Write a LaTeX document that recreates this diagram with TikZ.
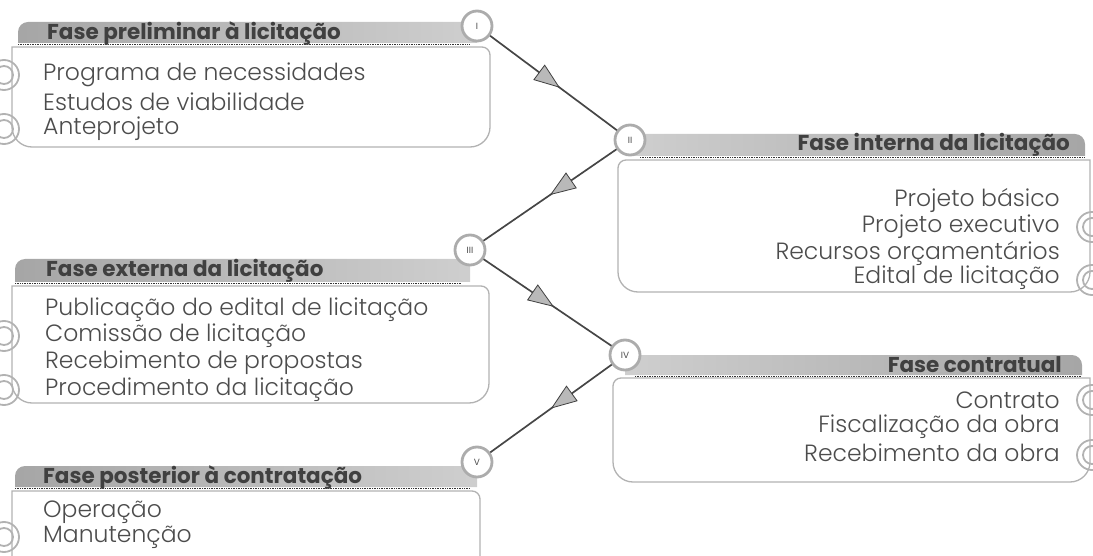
\documentclass[tikz,border=0pt]{standalone}
\usepackage{fontspec}
\setmainfont{Poppins}
\newfontfamily\leve{Poppins Light}
\usetikzlibrary{arrows.meta,decorations.markings}

% moldura de um bloco aberto a esquerda: x direito, y topo, y base
\newcommand{\molduraesq}[3]{%
	\draw[caixa] (12,#2) -- ({#1-8},#2) arc[start angle=-90,end angle=0,radius=8]
		-- (#1,{#3-20}) arc[start angle=0,end angle=90,radius=20]
		-- (32,#3) arc[start angle=90,end angle=180,radius=20] -- cycle;}
% moldura de um bloco aberto a direita: x esquerdo, y topo, y base
\newcommand{\molduradir}[3]{%
	\draw[caixa] (1090,#2) -- ({#1+8},#2) arc[start angle=-90,end angle=-180,radius=8]
		-- (#1,{#3-20}) arc[start angle=180,end angle=90,radius=20]
		-- (1070,#3) arc[start angle=90,end angle=0,radius=20] -- cycle;}

\begin{document}
\begin{tikzpicture}[x=1pt,y=-1pt,
	fase/.style={circle, draw=gray!65, line width=2.8pt, fill=white, minimum size=30pt, inner sep=0pt, text=gray!60!black, font=\fontsize{9}{9}\selectfont},
	titulo/.style={inner sep=0pt, text=black!75, font=\fontsize{21.5}{21.5}\selectfont\bfseries},
	item/.style={inner sep=0pt, text=black!70, font=\fontsize{23.5}{23.5}\selectfont\leve},
	caixa/.style={draw=gray!60, line width=1.3pt},
	pontilhado/.style={draw=gray!40!black, densely dotted, line width=0.7pt},
	argola/.style={draw=gray!60, line width=1.8pt},
	seta/.style={draw=gray!55!black, line width=1.7pt, postaction={decorate},
		decoration={markings, mark=at position #1 with {\arrow{Triangle[length=26pt,width=19pt,fill=gray!55,color=gray!50!black,line width=0.8pt]}}}},
	seta/.default=0.55]
	\path[use as bounding box, clip] (0,0) rectangle (1093,556);
	%\draw[help lines, step=50] (0,0) grid (1093,556);

	% barras de titulo
	\shade[left color=gray!70, right color=gray!38] (18,43) -- (18,32) arc[start angle=180,end angle=270,radius=10] -- (477,22) -- (477,43) -- cycle;
	\shade[left color=gray!38, right color=gray!70] (630,156) -- (630,134) -- (1075,134) arc[start angle=270,end angle=360,radius=10] -- (1085,156) -- cycle;
	\shade[left color=gray!70, right color=gray!38] (15,282) -- (15,269) arc[start angle=180,end angle=270,radius=10] -- (470,259) -- (470,282) -- cycle;
	\shade[left color=gray!38, right color=gray!70] (625,375) -- (625,355) -- (1072,355) arc[start angle=270,end angle=360,radius=10] -- (1082,375) -- cycle;
	\shade[left color=gray!70, right color=gray!38] (15,487) -- (15,476) arc[start angle=180,end angle=270,radius=10] -- (477,466) -- (477,487) -- cycle;
	\draw[pontilhado] (18,44) -- (470,44);
	\draw[pontilhado] (640,157) -- (1085,157);
	\draw[pontilhado] (15,283) -- (462,283);
	\draw[pontilhado] (635,376) -- (1082,376);
	\draw[pontilhado] (15,488) -- (470,488);

	% molduras
	\molduraesq{490}{47}{147}
	\molduradir{618}{160}{292}
	\molduraesq{489}{286}{403}
	\molduradir{613}{378}{482}
	\molduraesq{480}{491}{600}

	% argolas nas margens
	\foreach \y in {75,129,336,390,537}
		\draw[argola] (4,\y) circle[radius=15] (4,\y) circle[radius=9];
	\foreach \y in {227,280,400,455}
		\draw[argola] (1092,\y) circle[radius=15] (1092,\y) circle[radius=9];

	% fases
	\node[fase] (f1) at (477,26) {I};
	\node[fase] (f2) at (630,140) {II};
	\node[fase] (f3) at (470,250) {III};
	\node[fase] (f4) at (625,355) {IV};
	\node[fase] (f5) at (477,462) {V};
	\draw[seta] (f1) -- (f2);
	\draw[seta=0.5] (f2) -- (f3);
	\draw[seta] (f3) -- (f4);
	\draw[seta=0.5] (f4) -- (f5);

	% textos
	\path
		(47,33) node[titulo, anchor=west] (t1) {Fase preliminar à licitação}
		(43,75) node[item, anchor=west] (a1) {Programa de necessidades}
		(43,102) node[item, anchor=west] (a2) {Estudos de viabilidade}
		(43,129) node[item, anchor=west] (a3) {Anteprojeto}
		(1070,145) node[titulo, anchor=east] (t2) {Fase interna da licitação}
		(1060,200) node[item, anchor=east] (b1) {Projeto básico}
		(1060,227) node[item, anchor=east] (b2) {Projeto executivo}
		(1060,253) node[item, anchor=east] (b3) {Recursos orçamentários}
		(1060,278) node[item, anchor=east] (b4) {Edital de licitação}
		(46,271) node[titulo, anchor=west] (t3) {Fase externa da licitação}
		(45,310) node[item, anchor=west] (c1) {Publicação do edital de licitação}
		(45,336) node[item, anchor=west] (c2) {Comissão de licitação}
		(45,363) node[item, anchor=west] (c3) {Recebimento de propostas}
		(45,390) node[item, anchor=west] (c4) {Procedimento da licitação}
		(1062,365) node[titulo, anchor=east] (t4) {Fase contratual}
		(1060,400) node[item, anchor=east] (d1) {Contrato}
		(1060,427) node[item, anchor=east] (d2) {Fiscalização da obra}
		(1060,453) node[item, anchor=east] (d3) {Recebimento da obra}
		(43,477) node[titulo, anchor=west] (t5) {Fase posterior à contratação}
		(43,512) node[item, anchor=west] (e1) {Operação}
		(43,537) node[item, anchor=west] (e2) {Manutenção}
	;
\end{tikzpicture}
\end{document}
